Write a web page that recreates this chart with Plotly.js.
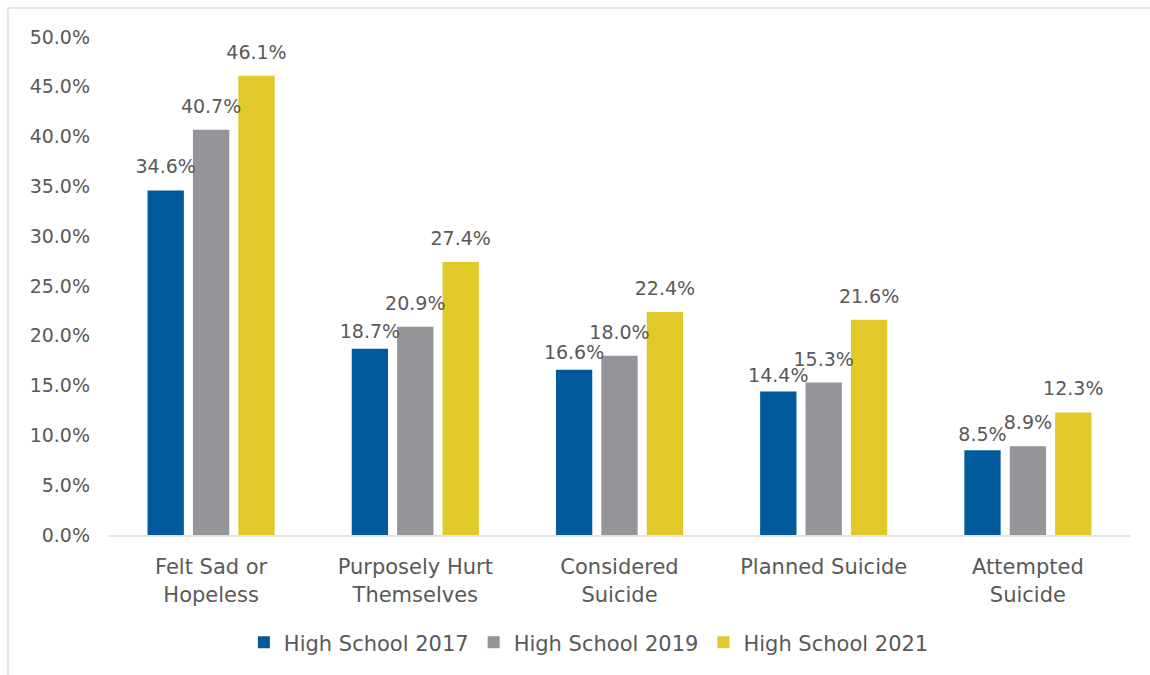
<!DOCTYPE html>
<html>
<head>
<meta charset="utf-8">
<script src="https://cdn.plot.ly/plotly-3.0.1.min.js"></script>
<style>
  html, body { margin: 0; padding: 0; background: #ffffff; }
  #wrap { position: relative; width: 1150px; height: 675px; }
  #chart { width: 1150px; height: 675px; }
  #frame { position: absolute; left: 7px; top: 7px; width: 1143px; height: 668px;
           border-top: 2px solid #e6e6e6; border-left: 2px solid #e6e6e6; pointer-events: none; }
</style>
</head>
<body>
<div id="wrap">
  <div id="chart"></div>
  <div id="frame"></div>
</div>
<script>
const categories = ["Felt Sad or<br>Hopeless", "Purposely Hurt<br>Themselves", "Considered<br>Suicide", "Planned Suicide", "Attempted<br>Suicide"];
const seriesNames = ["High School 2017", "High School 2019", "High School 2021"];
const hs2017 = [34.6, 18.7, 16.6, 14.4, 8.5];
const hs2019 = [40.7, 20.9, 18.0, 15.3, 8.9];
const hs2021 = [46.1, 27.4, 22.4, 21.6, 12.3];
const colors = ["#005A9C", "#939598", "#E0C928"];

const FONT = "DejaVu Sans, sans-serif";
const TXT = "#595959";

// label lift (invisible marker size): 2017 labels sit lower where they would collide
const labelLift = [
  [18, 8, 8, 6, 6],
  [18, 18, 18, 18, 18],
  [18, 18, 18, 18, 18]
];

const allSeries = [hs2017, hs2019, hs2021];
const bars = allSeries.map((vals, i) => ({
  type: "bar",
  name: seriesNames[i],
  x: categories,
  y: vals,
  marker: { color: colors[i] },
  hoverinfo: "skip"
}));
const labels = allSeries.map((vals, i) => ({
  type: "scatter",
  mode: "markers+text",
  showlegend: false,
  x: categories,
  y: vals,
  text: vals.map(v => v.toFixed(1) + "%"),
  textposition: "top center",
  marker: { size: labelLift[i], color: "rgba(0,0,0,0)", line: { width: 0, color: "rgba(0,0,0,0)" } },
  cliponaxis: false,
  textfont: { family: FONT, size: 19, color: TXT },
  hoverinfo: "skip"
}));

const layout = {
  width: 1150,
  height: 675,
  margin: { l: 109, r: 20, t: 37, b: 137 },
  paper_bgcolor: "rgba(0,0,0,0)",
  plot_bgcolor: "#ffffff",
  font: { family: FONT, size: 19, color: TXT },
  barmode: "group",
  bargap: 0.333,
  bargroupgap: 0.2,
  scattermode: "group",
  scattergap: 0.333,
  showlegend: true,
  legend: {
    orientation: "h",
    x: 0.47, xanchor: "center",
    y: -0.175, yanchor: "top",
    font: { family: FONT, size: 21, color: TXT },
    itemwidth: 30,
    traceorder: "normal"
  },
  xaxis: {
    type: "category",
    showline: true,
    linecolor: "#e3e3e3",
    linewidth: 2,
    showgrid: false,
    ticks: "",
    tickfont: { family: FONT, size: 21, color: TXT },
    ticklabelstandoff: 12,
    fixedrange: true
  },
  yaxis: {
    range: [0, 50],
    dtick: 5,
    tick0: 0,
    ticksuffix: "%",
    tickformat: ".1f",
    showgrid: false,
    zeroline: false,
    showline: false,
    ticks: "",
    tickfont: { family: FONT, size: 19, color: TXT },
    ticklabelstandoff: 18,
    fixedrange: true
  }
};

Plotly.newPlot("chart", bars.concat(labels), layout, { displayModeBar: false, staticPlot: true });
</script>
</body>
</html>
